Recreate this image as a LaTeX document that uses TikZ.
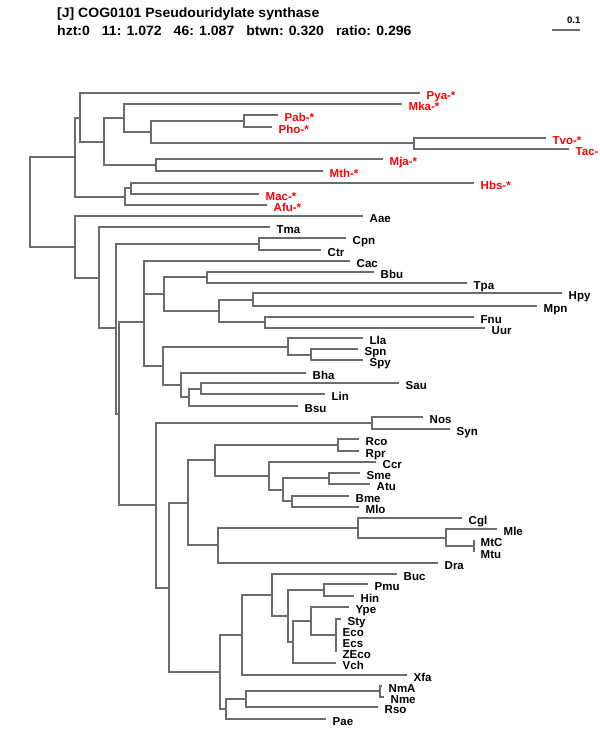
\documentclass[tikz,border=0pt]{standalone}
\usepackage{fontspec}
\setmainfont{Liberation Sans}
\definecolor{linegray}{RGB}{108,108,108}
\newcommand\leaffont{\fontsize{11.5}{12}\selectfont\bfseries}
\newcommand\headfont{\fontsize{13.5}{14}\selectfont\bfseries}
\tikzset{
  br/.style={draw=linegray, line width=1.6pt, line join=miter},
  lab/.style={anchor=base west, inner sep=0pt, font=\leaffont, text=black},
  arch/.style={lab, text=red},
  head/.style={anchor=base west, inner sep=0pt, font=\headfont},
}
\newcommand\mkleaf[5]{%
  \coordinate (#1) at (#2,#3);
  \node[#5] (#1t) at ([xshift=6.5pt,yshift=-6.3pt]#1) {#4};}
\begin{document}
\begin{tikzpicture}[x=1pt,y=-1pt]
\useasboundingbox (0,0) rectangle (600,750);
% header
\node[head] (title) at (57,17.3) {\scalebox{1.04}[1]{[J] COG0101 Pseudouridylate synthase}};
\node[head] (stats) at (57,35.7) {\scalebox{1.04}[1]{hzt:0\hspace{11.5pt}11: 1.072\hspace{11.5pt}46: 1.087\hspace{11.5pt}btwn: 0.320\hspace{11.5pt}ratio: 0.296}};
% scale bar
\coordinate (sb1) at (552,30);
\coordinate (sb2) at (580,30);
\draw[br, line width=1.3pt] (sb1) -- (sb2);
\node[anchor=base east, inner sep=0pt, font=\fontsize{9.5}{10}\selectfont\bfseries] (sbt) at (580.5,23.3) {0.1};
% internal nodes: archaea
\coordinate (r0) at (30,202);
\coordinate (a1) at (75,157);
\coordinate (a2) at (80,118);
\coordinate (a3) at (104,142);
\coordinate (a4) at (124,118);
\coordinate (a5) at (151,132);
\coordinate (a6) at (244,121);
\coordinate (a7) at (414,143);
\coordinate (a8) at (156,165);
\coordinate (a9) at (125,197);
\coordinate (a10) at (131,188);
% leaves: archaea
\mkleaf{Pya}{420}{93}{Pya-*}{arch}
\mkleaf{Mka}{402}{104}{Mka-*}{arch}
\mkleaf{Pab}{278}{115}{Pab-*}{arch}
\mkleaf{Pho}{272}{127}{Pho-*}{arch}
\mkleaf{Tvo}{546}{138}{Tvo-*}{arch}
\mkleaf{Tac}{569}{149}{Tac-}{arch}
\mkleaf{Mja}{383}{159}{Mja-*}{arch}
\mkleaf{Mth}{323}{171}{Mth-*}{arch}
\mkleaf{Hbs}{474}{183}{Hbs-*}{arch}
\mkleaf{Mac}{259}{194}{Mac-*}{arch}
\mkleaf{Afu}{267}{205}{Afu-*}{arch}
% internal nodes: bacteria
\coordinate (b1) at (75,247);
\coordinate (b2) at (99,278);
\coordinate (b3) at (116,328);
\coordinate (b4) at (259,244);
\coordinate (b5) at (119,414);
\coordinate (b6) at (144,322);
\coordinate (b7) at (144,278);
\coordinate (b8) at (164,294);
\coordinate (b9) at (207,277);
\coordinate (b10) at (219,311);
\coordinate (b11) at (253,300);
\coordinate (b12) at (265,322);
\coordinate (b13) at (163,366);
\coordinate (b14) at (288,347);
\coordinate (b15) at (311,355);
\coordinate (b16) at (181,385);
\coordinate (b17) at (189,397);
\coordinate (b18) at (201,389);
\coordinate (c1) at (156,505);
\coordinate (c2) at (372,423);
\coordinate (c3) at (169,588);
\coordinate (c4) at (188,503);
\coordinate (c5) at (215,460);
\coordinate (c6) at (338,445);
\coordinate (c7) at (269,476);
\coordinate (c8) at (283,490);
\coordinate (c9) at (329,478);
\coordinate (c10) at (292,501);
\coordinate (c11) at (218,545);
\coordinate (c12) at (358,528);
\coordinate (c13) at (446,538);
\coordinate (c14) at (474,546);
\coordinate (d1) at (220,672);
\coordinate (d2) at (242,635);
\coordinate (d3) at (272,595);
\coordinate (d4) at (288,616);
\coordinate (d5) at (324,590);
\coordinate (d6) at (293,642);
\coordinate (d7) at (311,621);
\coordinate (d8) at (336,635);
\coordinate (d9) at (226,709);
\coordinate (d10) at (246,699);
\coordinate (d11) at (380,691);
% leaves: bacteria
\mkleaf{Aae}{363}{216}{Aae}{lab}
\mkleaf{Tma}{270}{227}{Tma}{lab}
\mkleaf{Cpn}{346}{238}{Cpn}{lab}
\mkleaf{Ctr}{321}{250}{Ctr}{lab}
\mkleaf{Cac}{350}{261}{Cac}{lab}
\mkleaf{Bbu}{374}{272}{Bbu}{lab}
\mkleaf{Tpa}{467}{283}{Tpa}{lab}
\mkleaf{Hpy}{562}{293}{Hpy}{lab}
\mkleaf{Mpn}{537}{306}{Mpn}{lab}
\mkleaf{Fnu}{474}{317}{Fnu}{lab}
\mkleaf{Uur}{485}{328}{Uur}{lab}
\mkleaf{Lla}{363}{338}{Lla}{lab}
\mkleaf{Spn}{358}{349}{Spn}{lab}
\mkleaf{Spy}{363}{360}{Spy}{lab}
\mkleaf{Bha}{306}{373}{Bha}{lab}
\mkleaf{Sau}{399}{383}{Sau}{lab}
\mkleaf{Lin}{325}{394}{Lin}{lab}
\mkleaf{Bsu}{298}{406}{Bsu}{lab}
\mkleaf{Nos}{423}{417}{Nos}{lab}
\mkleaf{Syn}{450}{429}{Syn}{lab}
\mkleaf{Rco}{359}{439}{Rco}{lab}
\mkleaf{Rpr}{359}{451}{Rpr}{lab}
\mkleaf{Ccr}{376}{462}{Ccr}{lab}
\mkleaf{Sme}{360}{473}{Sme}{lab}
\mkleaf{Atu}{370}{484}{Atu}{lab}
\mkleaf{Bme}{349}{496}{Bme}{lab}
\mkleaf{Mlo}{359}{507}{Mlo}{lab}
\mkleaf{Cgl}{462}{518}{Cgl}{lab}
\mkleaf{Mle}{497}{529}{Mle}{lab}
\mkleaf{MtC}{474}{540}{MtC}{lab}
\mkleaf{Mtu}{474}{552}{Mtu}{lab}
\mkleaf{Dra}{438}{563}{Dra}{lab}
\mkleaf{Buc}{397}{574}{Buc}{lab}
\mkleaf{Pmu}{368}{584}{Pmu}{lab}
\mkleaf{Hin}{354}{596}{Hin}{lab}
\mkleaf{Ype}{349}{607}{Ype}{lab}
\mkleaf{Sty}{341}{619}{Sty}{lab}
\mkleaf{Eco}{336}{630}{Eco}{lab}
\mkleaf{Ecs}{336}{641}{Ecs}{lab}
\mkleaf{ZEco}{336}{652}{ZEco}{lab}
\mkleaf{Vch}{336}{663}{Vch}{lab}
\mkleaf{Xfa}{407}{675}{Xfa}{lab}
\mkleaf{NmA}{382}{686}{NmA}{lab}
\mkleaf{Nme}{384}{697}{Nme}{lab}
\mkleaf{Rso}{378}{707}{Rso}{lab}
\mkleaf{Pae}{326}{719}{Pae}{lab}
% branches: archaea
\draw[br] (r0) |- (a1) (a1) |- (a2) (a2) |- (Pya) (a2) |- (a3)
  (a3) |- (a4) (a4) |- (Mka) (a4) |- (a5) (a5) |- (a6)
  (a6) |- (Pab) (a6) |- (Pho) (a5) |- (a7) (a7) |- (Tvo) (a7) |- (Tac)
  (a3) |- (a8) (a8) |- (Mja) (a8) |- (Mth)
  (a1) |- (a9) (a9) |- (a10) (a10) |- (Hbs) (a10) |- (Mac) (a9) |- (Afu);
% branches: bacteria
\draw[br] (r0) |- (b1) (b1) |- (Aae) (b1) |- (b2) (b2) |- (Tma) (b2) |- (b3)
  (b3) |- (b4) (b4) |- (Cpn) (b4) |- (Ctr) (b3) |- (b5)
  (b5) |- (b6) (b6) |- (b7) (b7) |- (Cac) (b7) |- (b8)
  (b8) |- (b9) (b9) |- (Bbu) (b9) |- (Tpa)
  (b8) |- (b10) (b10) |- (b11) (b11) |- (Hpy) (b11) |- (Mpn)
  (b10) |- (b12) (b12) |- (Fnu) (b12) |- (Uur)
  (b6) |- (b13) (b13) |- (b14) (b14) |- (Lla) (b14) |- (b15) (b15) |- (Spn) (b15) |- (Spy)
  (b13) |- (b16) (b16) |- (Bha) (b16) |- (b17) (b17) |- (b18) (b18) |- (Sau) (b18) |- (Lin)
  (b17) |- (Bsu);
\draw[br] (b5) |- (c1) (c1) |- (c2) (c2) |- (Nos) (c2) |- (Syn)
  (c1) |- (c3) (c3) |- (c4) (c4) |- (c5) (c5) |- (c6) (c6) |- (Rco) (c6) |- (Rpr)
  (c5) |- (c7) (c7) |- (Ccr) (c7) |- (c8) (c8) |- (c9) (c9) |- (Sme) (c9) |- (Atu)
  (c8) |- (c10) (c10) |- (Bme) (c10) |- (Mlo)
  (c4) |- (c11) (c11) |- (c12) (c12) |- (Cgl) (c12) |- (c13) (c13) |- (Mle) (c13) |- (c14)
  (c14) |- (MtC) (c14) |- (Mtu) (c11) |- (Dra);
\draw[br] (c3) |- (d1) (d1) |- (d2) (d2) |- (d3) (d3) |- (Buc) (d3) |- (d4)
  (d4) |- (d5) (d5) |- (Pmu) (d5) |- (Hin) (d4) |- (d6) (d6) |- (d7)
  (d7) |- (Ype) (d7) |- (d8) (d8) |- (Sty) (d8) |- (Eco) (d8) |- (Ecs) (d8) |- (ZEco)
  (d6) |- (Vch) (d2) |- (Xfa)
  (d1) |- (d9) (d9) |- (d10) (d10) |- (d11) (d11) |- (NmA) (d11) |- (Nme)
  (d10) |- (Rso) (d9) |- (Pae);
\end{tikzpicture}
\end{document}
